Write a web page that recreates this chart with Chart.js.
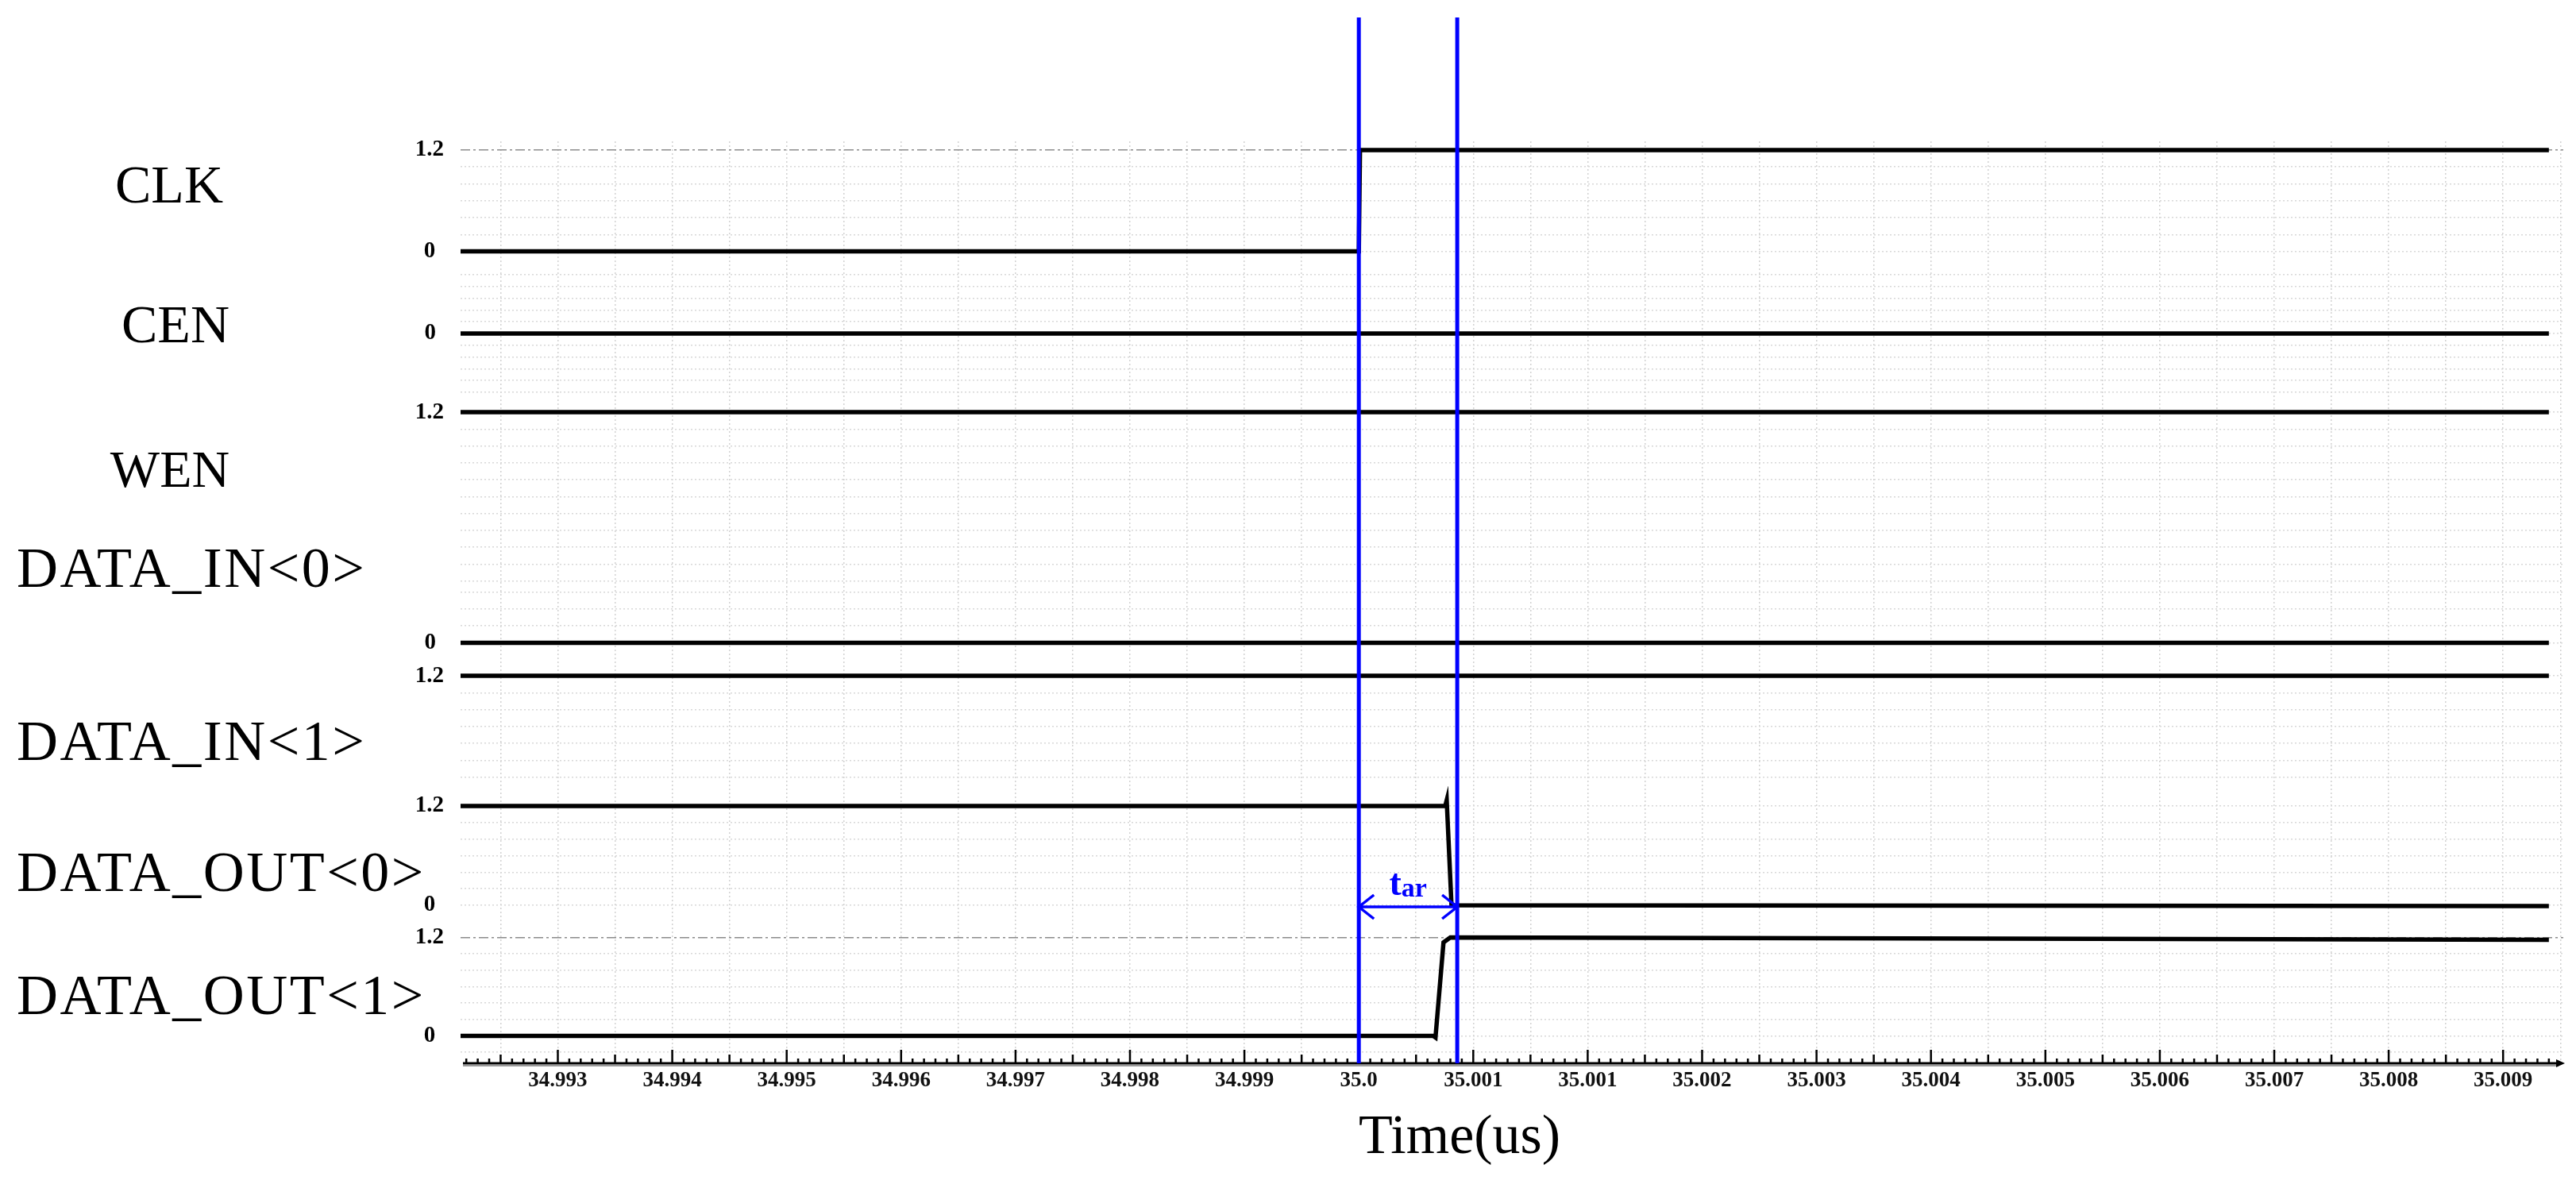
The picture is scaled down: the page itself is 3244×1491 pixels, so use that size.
<!DOCTYPE html>
<html>
<head>
<meta charset="utf-8">
<script src="https://cdn.jsdelivr.net/npm/chart.js@4.4.1/dist/chart.umd.min.js"></script>
<style>
  html, body { margin: 0; padding: 0; background: #fff; }
  canvas { display: block; }
</style>
</head>
<body>
<canvas id="waveChart" width="3244" height="1491"></canvas>
<script>
// x axis labels as printed, one per 0.001 us starting at 34.993
const timeTickLabels = ["34.993", "34.994", "34.995", "34.996", "34.997", "34.998", "34.999",
    "35.0", "35.001", "35.001", "35.002", "35.003", "35.004", "35.005", "35.006", "35.007", "35.008", "35.009"];
const firstTickTime = 34.993;
const tickStep = 0.001;

const signalNames = ["CLK", "CEN", "WEN", "DATA_IN<0>", "DATA_IN<1>", "DATA_OUT<0>", "DATA_OUT<1>"];

// waveforms: time (us) / level (V)
const clkTime = [34.99215, 35.0, 35.00001, 35.0104];
const clkVolt = [0, 0, 1.2, 1.2];
const cenTime = [34.99215, 35.0104];
const cenVolt = [0, 0];
const wenTime = [34.99215, 35.0104];
const wenVolt = [1.2, 1.2];
const dataIn0Time = [34.99215, 35.0104];
const dataIn0Volt = [0, 0];
const dataIn1Time = [34.99215, 35.0104];
const dataIn1Volt = [1.2, 1.2];
const dataOut0Time = [34.99215, 35.000755, 35.000768, 35.00081, 35.0104];
const dataOut0Volt = [1.2, 1.2, 1.27, 0, -0.01];
const dataOut1Time = [34.99215, 35.00065, 35.00067, 35.00074, 35.0008, 35.0104];
const dataOut1Volt = [0, 0, -0.02, 1.14, 1.2, 1.17];

// levels printed on each strip's y axis
const levelLabels = [[0, 1.2], [0], [1.2], [0], [1.2], [0, 1.2], [0, 1.2]];

// cursors: CLK edge and DATA_OUT settle (t_ar)
const markerTimes = [35.0, 35.00086];

const waveTimes = [clkTime, cenTime, wenTime, dataIn0Time, dataIn1Time, dataOut0Time, dataOut1Time];
const waveVolts = [clkVolt, cenVolt, wenVolt, dataIn0Volt, dataIn1Volt, dataOut0Volt, dataOut1Volt];

// strip geometry (px height of each stacked axis and its value range)
const strips = [
    { min: -0.127, max: 1.3035, height: 152, refLevel: 1.2 },
    { min: -1.149, max: 1.216, height: 175, refLevel: null },
    { min: -0.88, max: 1.332, height: 235, refLevel: null },
    { min: -0.193, max: 0.654, height: 90, refLevel: null },
    { min: -0.108, max: 1.398, height: 160, refLevel: null },
    { min: -0.192, max: 1.44, height: 170, refLevel: null },
    { min: -0.334, max: 1.398, height: 179, refLevel: 1.2 },
];

const serif = "'Liberation Serif', 'Times New Roman', serif";
const tickFont = { family: serif, size: 29, weight: "bold" };

function gridLevels(s) {
    const out = [];
    for (let n = Math.ceil((s.min + 0.05) / 0.2); n * 0.2 <= s.max - 0.05; n++) {
        out.push(Math.round(n * 2) / 10);
    }
    return out;
}

function isRefLine(i, ctx) {
    return ctx.tick && strips[i].refLevel !== null && Math.abs(ctx.tick.value - strips[i].refLevel) < 1e-6;
}

const scales = {
    x: {
        type: "linear",
        position: "bottom",
        min: 34.99215,
        max: 35.010526,
        afterBuildTicks: (scale) => {
            const ticks = [];
            for (let n = Math.ceil(scale.min * 2000); n / 2000 <= scale.max; n++) {
                ticks.push({ value: n / 2000 });
            }
            scale.ticks = ticks;
        },
        afterFit: (scale) => { scale.height = 152; },
        ticks: {
            autoSkip: false,
            maxRotation: 0,
            minRotation: 0,
            padding: 6,
            color: "#111",
            font: { family: serif, size: 27, weight: "bold" },
            callback: (value) => {
                const idx = (value - firstTickTime) / tickStep;
                const r = Math.round(idx);
                if (Math.abs(idx - r) > 1e-3 || r < 0 || r >= timeTickLabels.length) return "";
                return timeTickLabels[r];
            },
        },
        grid: { drawTicks: false, color: "#d2d2d2", lineWidth: 1.5 },
        border: { display: false, dash: [2, 3] },
    },
};

strips.forEach((s, i) => {
    scales["y" + i] = {
        type: "linear",
        position: "left",
        stack: "strips",
        stackWeight: s.height,
        weight: strips.length - i,
        min: s.min,
        max: s.max,
        afterBuildTicks: (scale) => { scale.ticks = gridLevels(s).map((v) => ({ value: v })); },
        afterFit: (scale) => { scale.width = 80; },
        ticks: {
            autoSkip: false,
            crossAlign: "center",
            padding: levelLabels[i].includes(1.2) ? 21 : 31,
            color: "#000",
            font: tickFont,
            callback: (value) => {
                const hit = levelLabels[i].find((l) => Math.abs(l - value) < 1e-6);
                return hit === undefined ? "" : String(hit);
            },
        },
        grid: {
            drawTicks: false,
            lineWidth: 1.5,
            color: (ctx) => (isRefLine(i, ctx) ? "#8c8c8c" : "#d8d8d8"),
        },
        border: {
            display: false,
            dash: (ctx) => (isRefLine(i, ctx) ? [12, 4, 3, 4] : [2, 3]),
        },
    };
});

// signal names on the left
const namesPlugin = {
    id: "signalNames",
    afterDraw(chart) {
        const spots = [
            ["center", 213, 255, 68, 0], ["center", 221, 431, 68, 0], ["center", 214, 613, 66, 0],
            ["left", 21, 739, 72, 2.5], ["left", 21, 957, 72, 2.5], ["left", 21, 1122, 72, 2.5], ["left", 21, 1277, 72, 2.5],
        ];
        const ctx = chart.ctx;
        ctx.save();
        ctx.fillStyle = "#000";
        ctx.textBaseline = "alphabetic";
        signalNames.forEach((name, i) => {
            const [align, x, y, size, spacing] = spots[i];
            ctx.font = size + "px " + serif;
            ctx.letterSpacing = spacing + "px";
            ctx.textAlign = align;
            ctx.fillText(name, x, y);
        });
        ctx.letterSpacing = "0px";
        ctx.font = "70px " + serif;
        ctx.textAlign = "center";
        ctx.fillText("Time(us)", 1838, 1452);
        ctx.restore();
    },
};

// axis line with arrow and the minor ticks pointing up into the plot
const timeAxisPlugin = {
    id: "timeAxis",
    afterDatasetsDraw(chart) {
        const { ctx, chartArea } = chart;
        const xs = chart.scales.x;
        const y = chartArea.bottom;
        ctx.save();
        ctx.strokeStyle = "#9a9a9a";
        ctx.lineWidth = 2;
        ctx.beginPath();
        ctx.moveTo(chartArea.left + 3, y + 3);
        ctx.lineTo(chartArea.right - 6, y + 3);
        ctx.stroke();
        ctx.strokeStyle = "#000";
        ctx.lineWidth = 3;
        ctx.beginPath();
        ctx.moveTo(chartArea.left + 3, y);
        ctx.lineTo(chartArea.right - 4, y);
        ctx.stroke();
        ctx.fillStyle = "#000";
        ctx.beginPath();
        ctx.moveTo(chartArea.right + 2, y);
        ctx.lineTo(chartArea.right - 9, y - 5);
        ctx.lineTo(chartArea.right - 9, y + 5);
        ctx.closePath();
        ctx.fill();
        ctx.lineWidth = 2.5;
        for (let n = Math.ceil(xs.min * 10000); n / 10000 <= xs.max - 0.00005; n++) {
            const px = xs.getPixelForValue(n / 10000);
            const len = n % 10 === 0 ? 17 : n % 5 === 0 ? 11 : 6;
            ctx.beginPath();
            ctx.moveTo(px, y);
            ctx.lineTo(px, y - len);
            ctx.stroke();
        }
        ctx.restore();
    },
};

// blue cursors and the t_ar arrow
const markerPlugin = {
    id: "markers",
    afterDatasetsDraw(chart) {
        const { ctx, chartArea } = chart;
        const xs = chart.scales.x;
        const px = markerTimes.map((t) => xs.getPixelForValue(t));
        ctx.save();
        ctx.strokeStyle = "#0000ff";
        ctx.lineWidth = 5;
        px.forEach((p) => {
            ctx.beginPath();
            ctx.moveTo(p, 22);
            ctx.lineTo(p, chartArea.bottom);
            ctx.stroke();
        });
        const ay = chart.scales.y5.getPixelForValue(0) + 2;
        ctx.lineWidth = 3.5;
        ctx.beginPath();
        ctx.moveTo(px[0], ay);
        ctx.lineTo(px[1], ay);
        ctx.moveTo(px[0] + 19, ay - 15);
        ctx.lineTo(px[0], ay);
        ctx.lineTo(px[0] + 19, ay + 15);
        ctx.moveTo(px[1] - 19, ay - 15);
        ctx.lineTo(px[1], ay);
        ctx.lineTo(px[1] - 19, ay + 15);
        ctx.stroke();
        const mid = (px[0] + px[1]) / 2;
        ctx.fillStyle = "#0000ff";
        ctx.textBaseline = "alphabetic";
        ctx.textAlign = "left";
        ctx.font = "bold 46px " + serif;
        const tw = ctx.measureText("t").width;
        ctx.font = "bold 34px " + serif;
        const aw = ctx.measureText("ar").width;
        const x0 = mid - (tw + aw) / 2;
        ctx.font = "bold 46px " + serif;
        ctx.fillText("t", x0, ay - 15);
        ctx.font = "bold 34px " + serif;
        ctx.fillText("ar", x0 + tw, ay - 13);
        ctx.restore();
    },
};

new Chart(document.getElementById("waveChart").getContext("2d"), {
    type: "line",
    data: {
        datasets: signalNames.map((name, i) => ({
            label: name,
            data: waveTimes[i].map((t, k) => ({ x: t, y: waveVolts[i][k] })),
            yAxisID: "y" + i,
            borderColor: "#000",
            borderWidth: 5.5,
            pointRadius: 0,
            tension: 0,
            fill: false,
        })),
    },
    options: {
        responsive: false,
        animation: false,
        devicePixelRatio: 1,
        layout: { padding: { top: 178, left: 500, right: 16, bottom: 0 } },
        plugins: { legend: { display: false }, tooltip: { enabled: false } },
        scales: scales,
    },
    plugins: [namesPlugin, timeAxisPlugin, markerPlugin],
});
</script>
</body>
</html>
